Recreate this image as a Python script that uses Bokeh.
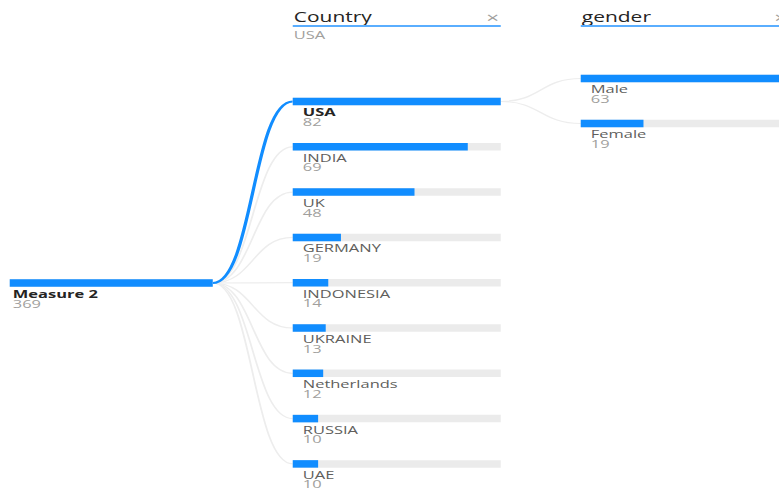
from bokeh.plotting import figure
from bokeh.models import Range1d, ColumnDataSource, InlineStyleSheet
from bokeh.core.properties import value
from bokeh.embed import file_html
from bokeh.resources import INLINE

# Decomposition tree: Measure 2 -> Country -> gender (for USA)
root_label = "Measure 2"
root_value = 369

countries = ["USA", "INDIA", "UK", "GERMANY", "INDONESIA", "UKRAINE",
             "Netherlands", "RUSSIA", "UAE"]
country_values = [82, 69, 48, 19, 14, 13, 12, 10, 10]
selected_country = "USA"

genders = ["Male", "Female"]
gender_values = [63, 19]

FONT = value("Open Sans")
BLUE = "#118DFF"
TRACK = "#EBEBEB"
LINK = "#EDEDED"
NAME_C = "#605E5C"
VAL_C = "#A19F9D"
HEAD_C = "#252423"

# The visual is laid out on a 779 px wide stage, rendered on a narrower
# canvas and widened with a horizontal CSS scale (wide, stretched look).
W, H = 779, 488
CANVAS_W = 520
SX = W / CANVAS_W
stretch = InlineStyleSheet(css=(
    ":host { overflow: visible; }\n"
    f":host > div, .bk-Canvas {{ transform: scaleX({SX:.5f}); transform-origin: 0 0; }}\n"
))

p = figure(width=CANVAS_W, height=H, output_backend="svg", toolbar_location=None,
           x_range=Range1d(0, W), y_range=Range1d(H, 0), min_border=0,
           stylesheets=[stretch])
p.axis.visible = False
p.grid.visible = False
p.outline_line_color = None
p.background_fill_color = "white"
p.border_fill_color = "white"

BAR_H = 7.5
col_x = [9, 292, 580]
col_w = [203, 208, 208]

# level positions
root_y = 282.5
country_y = [101 + i * 45.3 for i in range(len(countries))]
gender_y = [78, 123]


def level_bars(x0, w, ys, vals, vmax):
    ys = list(ys)
    p.quad(left=[x0] * len(ys), right=[x0 + w] * len(ys),
           top=[y - BAR_H / 2 for y in ys], bottom=[y + BAR_H / 2 for y in ys],
           fill_color=TRACK, line_color=None)
    p.quad(left=[x0] * len(ys), right=[x0 + w * v / vmax for v in vals],
           top=[y - BAR_H / 2 for y in ys], bottom=[y + BAR_H / 2 for y in ys],
           fill_color=BLUE, line_color=None)


def links(x0, y0, x1, ys, color, width):
    mx = (x0 + x1) / 2
    n = len(ys)
    p.bezier(x0=[x0] * n, y0=[y0] * n, x1=[x1] * n, y1=list(ys),
             cx0=[mx] * n, cy0=[y0] * n, cx1=[mx] * n, cy1=list(ys),
             line_color=color, line_width=width)


# connectors: root -> countries
sel_i = countries.index(selected_country)
others = [y for i, y in enumerate(country_y) if i != sel_i]
links(col_x[0] + col_w[0], root_y, col_x[1], others, LINK, 1.2)
links(col_x[0] + col_w[0], root_y, col_x[1], [country_y[sel_i]], BLUE, 2.2)
# connectors: USA -> gender
links(col_x[1] + col_w[1], country_y[sel_i], col_x[2], gender_y, LINK, 1.2)

# bars
level_bars(col_x[0], col_w[0], [root_y], [root_value], root_value)
level_bars(col_x[1], col_w[1], country_y, country_values, max(country_values))
level_bars(col_x[2], col_w[2], gender_y, gender_values, max(gender_values))

# root labels
p.text(x=[12], y=[root_y + 10.5], text=[root_label], text_font=FONT,
       text_font_size="11px", text_font_style="bold", text_color=HEAD_C,
       text_baseline="middle")
p.text(x=[12], y=[root_y + 20.5], text=[str(root_value)], text_font=FONT,
       text_font_size="11px", text_color=VAL_C, text_baseline="middle")

# country labels
styles = ["bold" if c == selected_country else "normal" for c in countries]
colors = [HEAD_C if c == selected_country else NAME_C for c in countries]
src = ColumnDataSource(dict(x=[302] * len(countries),
                            y=[y + 10.5 for y in country_y],
                            t=countries, s=styles, c=colors))
p.text(x="x", y="y", text="t", text_font_style="s", text_color="c",
       text_font=FONT, text_font_size="11px", text_baseline="middle",
       source=src)
p.text(x=[302] * len(countries), y=[y + 20.5 for y in country_y],
       text=[str(v) for v in country_values], text_font=FONT,
       text_font_size="11px", text_color=VAL_C, text_baseline="middle")

# gender labels
p.text(x=[590] * 2, y=[y + 10.5 for y in gender_y], text=genders,
       text_font=FONT, text_font_size="11px", text_color=NAME_C,
       text_baseline="middle")
p.text(x=[590] * 2, y=[y + 20.5 for y in gender_y],
       text=[str(v) for v in gender_values], text_font=FONT,
       text_font_size="11px", text_color=VAL_C, text_baseline="middle")

# column headers
headers = ["Country", "gender"]
for hx, hw, ht in zip(col_x[1:], col_w[1:], headers):
    p.text(x=[hx + 1], y=[16.5], text=[ht], text_font=FONT,
           text_font_size="14px", text_color=HEAD_C, text_baseline="middle")
    p.segment(x0=[hx], y0=[25.5], x1=[hx + hw], y1=[25.5],
              line_color="#5AAEFF", line_width=2)
    p.text(x=[hx + hw - 8], y=[17], text=["\u00d7"], text_font=FONT,
           text_font_size="15px", text_color="#A19F9D",
           text_baseline="middle", text_align="center")
p.text(x=[col_x[1] + 1], y=[34.5], text=[selected_country], text_font=FONT,
       text_font_size="11px", text_color=VAL_C, text_baseline="middle")

open("out.html", "w").write(file_html(p, INLINE))
